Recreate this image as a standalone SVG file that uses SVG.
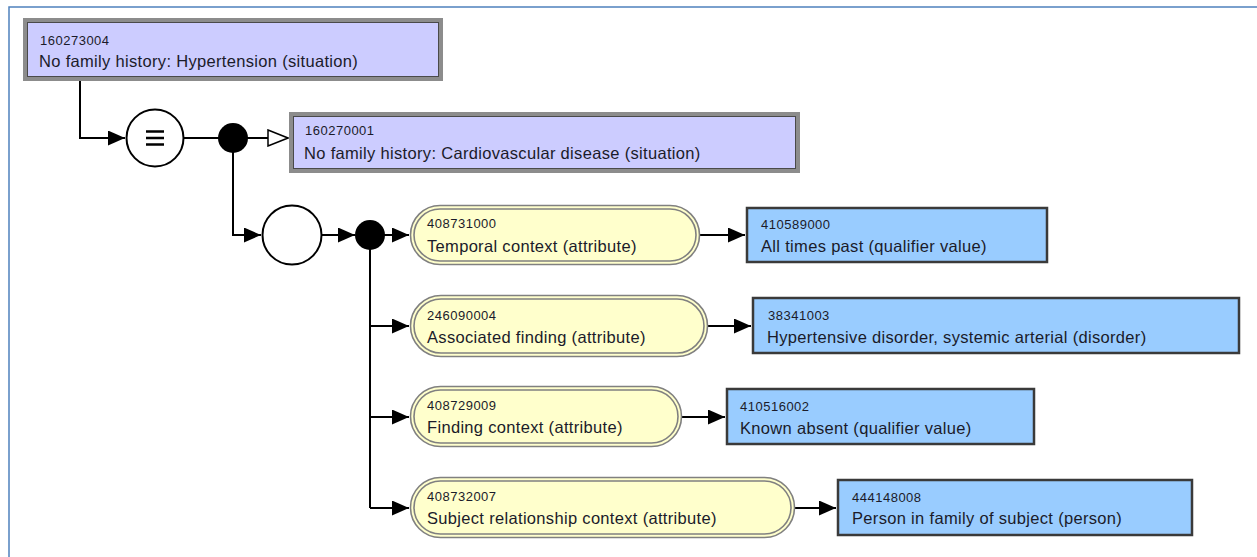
<svg xmlns="http://www.w3.org/2000/svg" width="1257" height="557" viewBox="0 0 1257 557">
<style>
.code{font-family:"Liberation Sans",Arial,sans-serif;font-size:13px;letter-spacing:0.5px;fill:#1b1b2a}
.lbl{font-family:"Liberation Sans",Arial,sans-serif;font-size:16.5px;letter-spacing:0.32px;fill:#1b1b2a}
.sit-o{fill:#ccccff;stroke:#8c8c8c;stroke-width:4}
.sit-i{fill:none;stroke:#4a4a4a;stroke-width:1}
.val{fill:#99ccff;stroke:#3a3a3a;stroke-width:2.5}
.att-o{fill:#ffffcc;stroke:#808080;stroke-width:1.6}
.att-i{fill:none;stroke:#808080;stroke-width:1.6}
.ln{fill:none;stroke:#000;stroke-width:2}
.circ{fill:#fff;stroke:#000;stroke-width:2}
</style>
<defs>
<marker id="arr" viewBox="0 0 17 15" refX="17" refY="7.5" markerWidth="17" markerHeight="15" markerUnits="userSpaceOnUse" orient="auto">
<path d="M0,0 L17,7.5 L0,15 Z" fill="#000"/>
</marker>
<marker id="open" viewBox="0 0 22 18" refX="21" refY="9" markerWidth="22" markerHeight="18" markerUnits="userSpaceOnUse" orient="auto">
<path d="M1,1 L21,9 L1,17 Z" fill="#fff" stroke="#000" stroke-width="1.5"/>
</marker>
</defs>
<rect width="1257" height="557" fill="#fff"/>
<path d="M9,557 V7 H1257" fill="none" stroke="#4f81bd" stroke-width="1.5"/>

<g id="connectors">
<path class="ln" d="M80,81 V138 H125" marker-end="url(#arr)"/>
<path class="ln" d="M183,138 H233"/>
<path class="ln" d="M233,138 H288" marker-end="url(#open)"/>
<path class="ln" d="M233,138 V235 H261" marker-end="url(#arr)"/>
<path class="ln" d="M322,235 H355" marker-end="url(#arr)"/>
<path class="ln" d="M370,235 H409" marker-end="url(#arr)"/>
<path class="ln" d="M370,235 V508"/>
<path class="ln" d="M370,326 H409" marker-end="url(#arr)"/>
<path class="ln" d="M370,417 H409" marker-end="url(#arr)"/>
<path class="ln" d="M370,508 H409" marker-end="url(#arr)"/>
<path class="ln" d="M700,235 H745" marker-end="url(#arr)"/>
<path class="ln" d="M708,326 H751" marker-end="url(#arr)"/>
<path class="ln" d="M682,417 H725" marker-end="url(#arr)"/>
<path class="ln" d="M795,508 H836" marker-end="url(#arr)"/>
</g>

<g id="equiv">
<circle class="circ" cx="155" cy="138" r="28.5"/>
<path d="M146,131.5 H164 M146,138 H164 M146,144.5 H164" stroke="#000" stroke-width="2.6"/>
</g>
<g id="dot1"><circle cx="233" cy="138" r="15" fill="#000"/></g>
<g id="group"><circle class="circ" cx="292" cy="235" r="29.5"/></g>
<g id="dot2"><circle cx="370" cy="235" r="15" fill="#000"/></g>

<g id="n160273004">
<rect class="sit-o" x="25" y="20" width="416" height="59"/>
<rect class="sit-i" x="27.5" y="22.5" width="411" height="54"/>
<text class="code" x="40" y="45">160273004</text>
<text class="lbl" x="39" y="67">No family history: Hypertension (situation)</text>
</g>

<g id="n160270001">
<rect class="sit-o" x="291" y="114" width="507" height="57"/>
<rect class="sit-i" x="293.5" y="116.5" width="502" height="52"/>
<text class="code" x="305" y="135">160270001</text>
<text class="lbl" x="304" y="159">No family history: Cardiovascular disease (situation)</text>
</g>

<g id="a408731000">
<rect class="att-o" x="410.5" y="205.5" width="289" height="59" rx="29.5"/>
<rect class="att-i" x="414" y="209" width="282" height="52" rx="26"/>
<text class="code" x="427" y="228">408731000</text>
<text class="lbl" x="427" y="252">Temporal context (attribute)</text>
</g>

<g id="a246090004">
<rect class="att-o" x="410.5" y="295.5" width="297" height="61" rx="30.5"/>
<rect class="att-i" x="414" y="299" width="290" height="54" rx="27"/>
<text class="code" x="427" y="320">246090004</text>
<text class="lbl" x="427" y="343">Associated finding (attribute)</text>
</g>

<g id="a408729009">
<rect class="att-o" x="410.5" y="386.5" width="271" height="60" rx="30"/>
<rect class="att-i" x="414" y="390" width="264" height="53" rx="26.5"/>
<text class="code" x="427" y="410">408729009</text>
<text class="lbl" x="427" y="433">Finding context (attribute)</text>
</g>

<g id="a408732007">
<rect class="att-o" x="410.5" y="477.5" width="384" height="60" rx="30"/>
<rect class="att-i" x="414" y="481" width="377" height="53" rx="26.5"/>
<text class="code" x="427" y="501">408732007</text>
<text class="lbl" x="427" y="524">Subject relationship context (attribute)</text>
</g>

<g id="v410589000">
<rect class="val" x="747" y="208" width="300" height="54"/>
<text class="code" x="761" y="229">410589000</text>
<text class="lbl" x="761" y="252">All times past (qualifier value)</text>
</g>

<g id="v38341003">
<rect class="val" x="753" y="298" width="486" height="55"/>
<text class="code" x="768" y="320">38341003</text>
<text class="lbl" x="767" y="343">Hypertensive disorder, systemic arterial (disorder)</text>
</g>

<g id="v410516002">
<rect class="val" x="727" y="389" width="307" height="55"/>
<text class="code" x="740" y="411">410516002</text>
<text class="lbl" x="740" y="434">Known absent (qualifier value)</text>
</g>

<g id="v444148008">
<rect class="val" x="838" y="480" width="354" height="55"/>
<text class="code" x="852" y="502">444148008</text>
<text class="lbl" x="852" y="524">Person in family of subject (person)</text>
</g>
</svg>
